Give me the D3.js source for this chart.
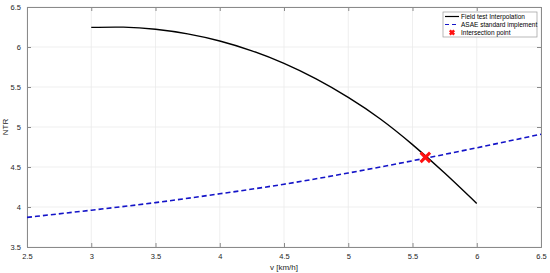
<!DOCTYPE html>
<html>
<head>
<meta charset="utf-8">
<script src="https://cdn.jsdelivr.net/npm/d3@7"></script>
<style>
  body { margin: 0; background: #fff; }
  text { font-family: "Liberation Sans", Arial, sans-serif; }
</style>
</head>
<body>
<div id="chart"></div>
<script>
// data
const fieldV   = [3, 3.25, 3.5, 3.75, 4, 4.25, 4.5, 4.75, 5, 5.25, 5.5, 5.75, 6]
const fieldNTR = [6.245, 6.248, 6.222, 6.164, 6.075, 5.952, 5.795, 5.601, 5.37, 5.1, 4.78, 4.425, 4.045]
const asaeV    = [2.5, 3, 3.5, 4, 4.5, 5, 5.5, 6, 6.5]
const asaeNTR  = [3.87, 3.96, 4.055, 4.165, 4.285, 4.425, 4.578, 4.74, 4.91]
const crossing = [5.6, 4.62]
const xTicks = [2.5, 3, 3.5, 4, 4.5, 5, 5.5, 6, 6.5]
const yTicks = [3.5, 4, 4.5, 5, 5.5, 6, 6.5]
const legendLabels = ["Field test Interpolation", "ASAE standard implement", "Intersection point"]

const W = 550, H = 273
const MARGIN = { LEFT: 27, RIGHT: 9, TOP: 7, BOTTOM: 26 }
const WIDTH = W - MARGIN.LEFT - MARGIN.RIGHT
const HEIGHT = H - MARGIN.TOP - MARGIN.BOTTOM

const svg = d3.select("#chart").append("svg")
    .attr("width", W)
    .attr("height", H)

const g = svg.append("g")
    .attr("transform", `translate(${MARGIN.LEFT}, ${MARGIN.TOP})`)

const x = d3.scaleLinear().domain([2.5, 6.5]).range([0, WIDTH])
const y = d3.scaleLinear().domain([3.5, 6.5]).range([HEIGHT, 0])

// grid
g.selectAll(".vgrid").data(xTicks).enter().append("line")
    .attr("x1", d => x(d)).attr("x2", d => x(d))
    .attr("y1", 0).attr("y2", HEIGHT)
    .attr("stroke", "#ebebeb").attr("stroke-width", 0.8)
g.selectAll(".hgrid").data(yTicks).enter().append("line")
    .attr("x1", 0).attr("x2", WIDTH)
    .attr("y1", d => y(d)).attr("y2", d => y(d))
    .attr("stroke", "#ebebeb").attr("stroke-width", 0.8)

// axes (matlab-style box, ticks inside)
const axisColor = "#8a8a8a"
const xAxis = g.append("g")
    .attr("transform", `translate(0, ${HEIGHT})`)
    .call(d3.axisBottom(x).tickValues(xTicks).tickSize(-4).tickPadding(7).tickFormat(d3.format("")))
const xTop = g.append("g")
    .call(d3.axisTop(x).tickValues(xTicks).tickSize(-4).tickFormat(""))
const yAxis = g.append("g")
    .call(d3.axisLeft(y).tickValues(yTicks).tickSize(-4).tickPadding(6).tickFormat(d3.format("")))
const yRight = g.append("g")
    .attr("transform", `translate(${WIDTH}, 0)`)
    .call(d3.axisRight(y).tickValues(yTicks).tickSize(-4).tickFormat(""))

for (const a of [xAxis, xTop, yAxis, yRight]) {
    a.select(".domain").attr("stroke", axisColor).attr("stroke-width", 1)
    a.selectAll(".tick line").attr("stroke", axisColor)
    a.selectAll(".tick text").attr("fill", "#262626").attr("font-size", "7.5px")
        .style("font-family", "Liberation Sans, Arial, sans-serif")
}

// labels
g.append("text")
    .attr("x", WIDTH / 2).attr("y", HEIGHT + 23)
    .attr("text-anchor", "middle")
    .attr("font-size", "8px").attr("fill", "#262626")
    .text("v [km/h]")
g.append("text")
    .attr("transform", "rotate(-90)")
    .attr("x", -HEIGHT / 2).attr("y", -19)
    .attr("text-anchor", "middle")
    .attr("font-size", "8px").attr("fill", "#262626")
    .text("NTR")

// curves
const line = d3.line()
    .x(d => x(d[0]))
    .y(d => y(d[1]))
    .curve(d3.curveNatural)

g.append("path")
    .datum(asaeV.map((v, i) => [v, asaeNTR[i]]))
    .attr("d", line)
    .attr("fill", "none")
    .attr("stroke", "#1414c8")
    .attr("stroke-width", 1.6)
    .attr("stroke-dasharray", "5,3")

g.append("path")
    .datum(fieldV.map((v, i) => [v, fieldNTR[i]]))
    .attr("d", line)
    .attr("fill", "none")
    .attr("stroke", "#000")
    .attr("stroke-width", 1.4)

// intersection marker
const cross = d3.symbol().type(d3.symbolX).size(60)
g.append("path")
    .attr("d", cross)
    .attr("transform", `translate(${x(crossing[0])}, ${y(crossing[1])})`)
    .attr("fill", "none")
    .attr("stroke", "#ff1010")
    .attr("stroke-width", 3)

// legend
const lg = svg.append("g").attr("transform", "translate(443, 12)")
lg.append("rect")
    .attr("width", 94).attr("height", 25)
    .attr("fill", "#fff").attr("stroke", "#9a9a9a").attr("stroke-width", 0.7)
const rowY = [4.5, 12.5, 20.5]
lg.append("line").attr("x1", 2).attr("x2", 16).attr("y1", rowY[0]).attr("y2", rowY[0])
    .attr("stroke", "#000").attr("stroke-width", 1.2)
lg.append("line").attr("x1", 2).attr("x2", 16).attr("y1", rowY[1]).attr("y2", rowY[1])
    .attr("stroke", "#1414c8").attr("stroke-width", 1.2).attr("stroke-dasharray", "4,3")
lg.append("path")
    .attr("d", d3.symbol().type(d3.symbolX).size(14))
    .attr("transform", `translate(9, ${rowY[2]})`)
    .attr("fill", "none").attr("stroke", "#ff1010").attr("stroke-width", 2.5)
lg.selectAll(".lt").data(legendLabels).enter().append("text")
    .attr("x", 18).attr("y", (d, i) => rowY[i] + 2.3)
    .attr("font-size", "6.5px").attr("fill", "#000")
    .text(d => d)
</script>
</body>
</html>
